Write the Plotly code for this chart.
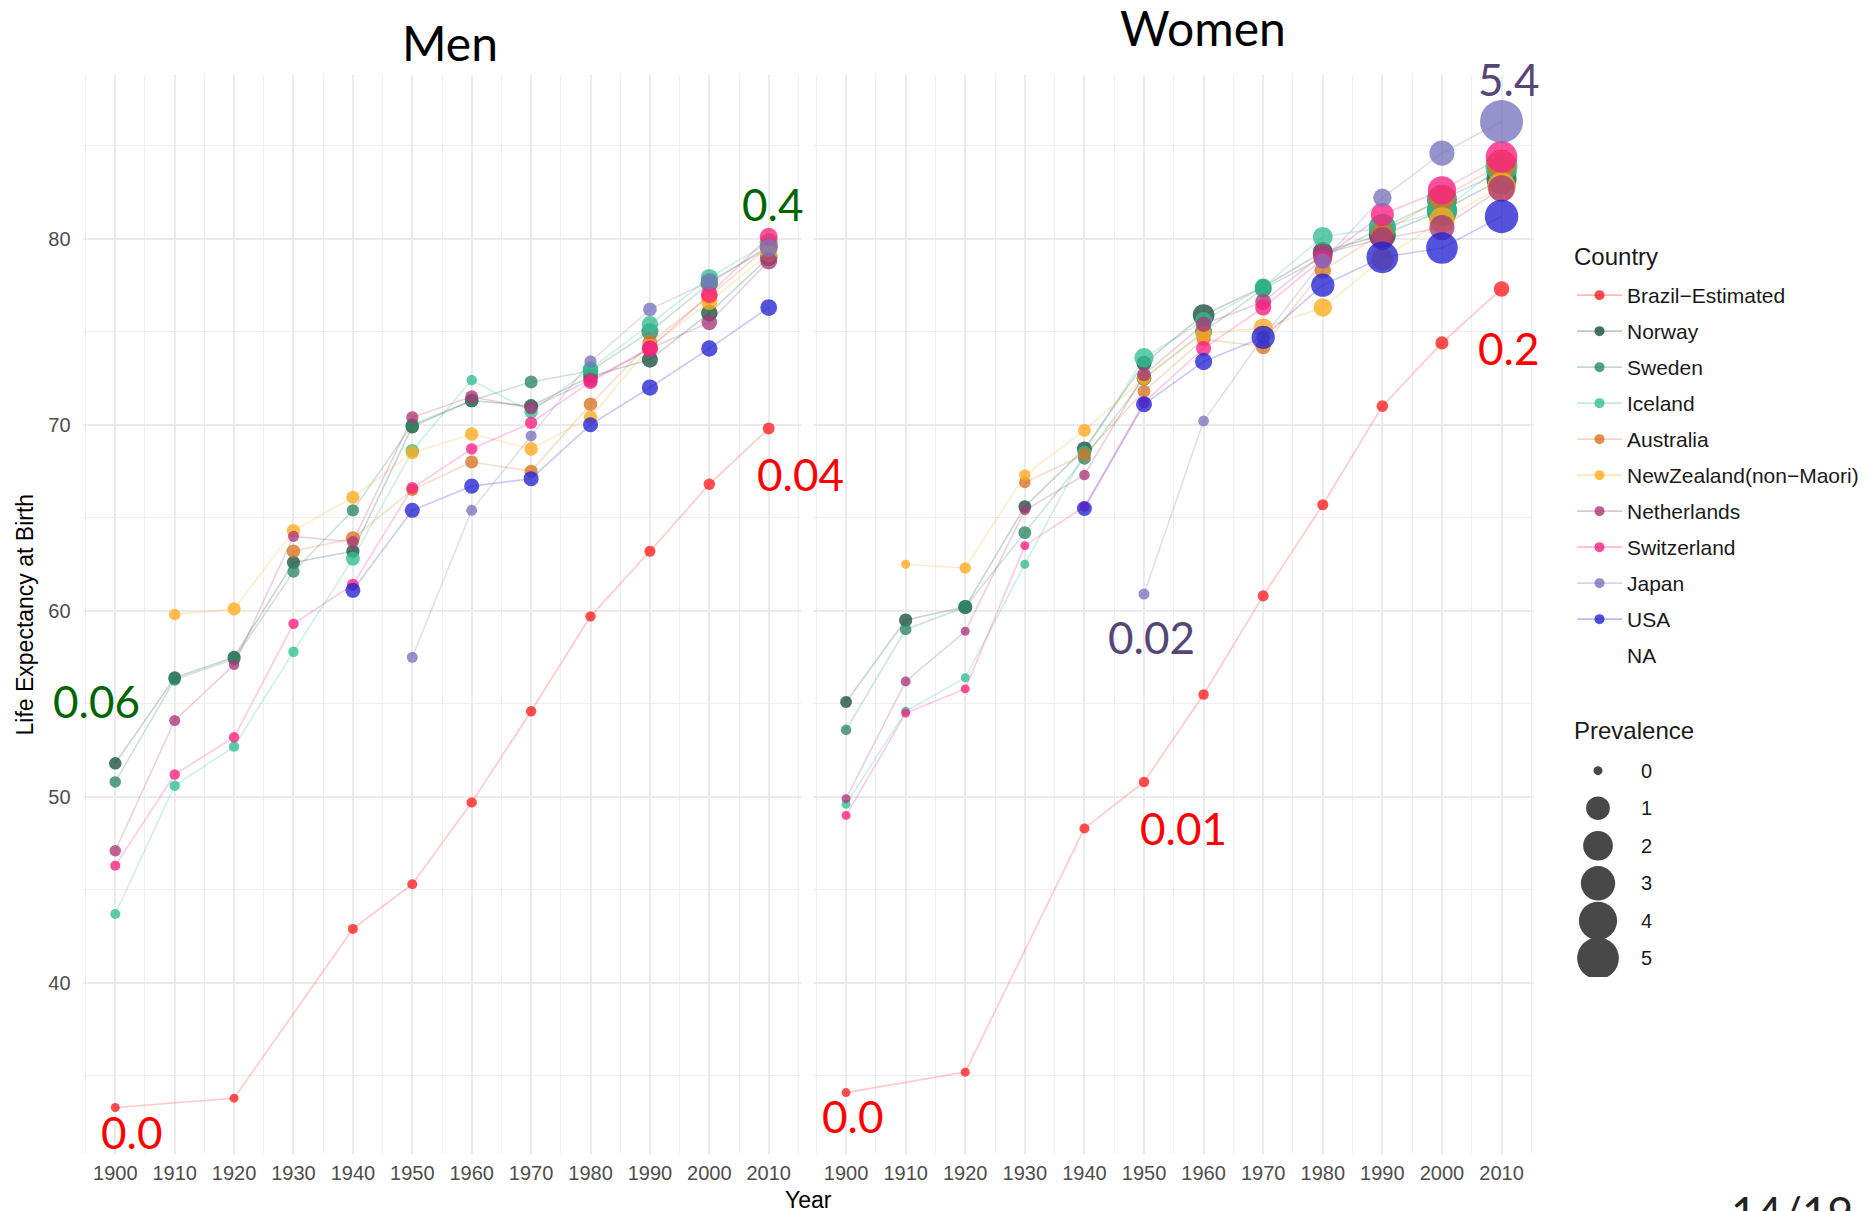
import math
import plotly.graph_objects as go

N = None
years = [1900, 1910, 1920, 1930, 1940, 1950, 1960, 1970, 1980, 1990, 2000, 2010]
x_ticks = [1900, 1910, 1920, 1930, 1940, 1950, 1960, 1970, 1980, 1990, 2000, 2010]
y_ticks = [40, 50, 60, 70, 80]
countries = ["Brazil\u2212Estimated", "Norway", "Sweden", "Iceland", "Australia",
             "NewZealand(non\u2212Maori)", "Netherlands", "Switzerland", "Japan", "USA"]
prevalence_breaks = [0, 1, 2, 3, 4, 5]

# ---- Life expectancy, men ----
men_brazil = [33.3, N, 33.8, N, 42.9, 45.3, 49.7, 54.6, 59.7, 63.2, 66.8, 69.8]
men_norway = [51.8, 56.4, 57.5, 62.6, 63.2, 69.9, 71.3, 71.0, 72.6, 73.5, 76.0, 79.0]
men_sweden = [50.8, 56.3, 57.4, 62.1, 65.4, 70.0, 71.3, 72.3, 72.9, 75.0, 77.6, 79.6]
men_iceland = [43.7, 50.6, 52.7, 57.8, 62.8, 68.6, 72.4, 70.7, 73.0, 75.4, 77.9, 79.8]
men_australia = [N, N, N, 63.2, 63.9, 66.5, 68.0, 67.5, 71.1, 74.4, 76.9, 79.6]
men_newzealand = [N, 59.8, 60.1, 64.3, 66.1, 68.5, 69.5, 68.7, 70.4, 74.2, 76.6, 79.2]
men_netherlands = [47.1, 54.1, 57.1, 64.0, 63.7, 70.4, 71.5, 70.9, 72.4, 74.1, 75.5, 78.8]
men_switzerland = [46.3, 51.2, 53.2, 59.3, 61.4, 66.6, 68.7, 70.1, 72.3, 74.1, 77.0, 80.1]
men_japan = [N, N, N, N, N, 57.5, 65.4, 69.4, 73.4, 76.2, 77.7, 79.5]
men_usa = [N, N, N, N, 61.1, 65.4, 66.7, 67.1, 70.0, 72.0, 74.1, 76.3]

# ---- Life expectancy, women ----
women_brazil = [34.1, N, 35.2, N, 48.3, 50.8, 55.5, 60.8, 65.7, 71.0, 74.4, 77.3]
women_norway = [55.1, 59.5, 60.2, 65.6, 68.7, 73.3, 75.9, 77.4, 79.3, 80.2, 81.5, 83.2]
women_sweden = [53.6, 59.0, 60.2, 64.2, 68.2, 72.5, 75.0, 77.3, 79.0, 80.6, 82.1, 83.6]
women_iceland = [49.6, 54.6, 56.4, 62.5, 68.5, 73.6, 75.6, 77.4, 80.1, 80.6, 81.5, 83.9]
women_australia = [N, N, N, 66.9, 68.4, 71.8, 74.6, 74.2, 78.3, 80.3, 82.2, 84.0]
women_newzealand = [N, 62.5, 62.3, 67.3, 69.7, 72.5, 74.9, 75.2, 76.3, 78.9, 81.0, 82.8]
women_netherlands = [49.9, 56.2, 58.9, 65.4, 67.3, 72.7, 75.4, 76.6, 79.2, 80.0, 80.6, 82.7]
women_switzerland = [49.0, 54.5, 55.8, 63.5, 65.6, 71.2, 74.1, 76.3, 78.9, 81.3, 82.6, 84.4]
women_japan = [N, N, N, N, N, 60.9, 70.2, 74.7, 78.8, 82.2, 84.6, 86.3]
women_usa = [N, N, N, N, 65.5, 71.1, 73.4, 74.7, 77.5, 79.0, 79.5, 81.2]

# ---- Prevalence, men ----
prev_men_brazil = [0.0, N, 0.0, N, 0.005, 0.005, 0.01, 0.01, 0.01, 0.02, 0.03, 0.04]
prev_men_norway = [0.06, 0.07, 0.08, 0.08, 0.08, 0.1, 0.1, 0.12, 0.15, 0.23, 0.27, 0.33]
prev_men_sweden = [0.03, 0.05, 0.06, 0.05, 0.05, 0.08, 0.08, 0.08, 0.2, 0.3, 0.35, 0.38]
prev_men_iceland = [0.005, 0.01, 0.01, 0.01, 0.12, 0.1, 0.01, 0.1, 0.2, 0.27, 0.35, 0.4]
prev_men_australia = [N, N, N, 0.1, 0.12, 0.05, 0.08, 0.08, 0.1, 0.17, 0.25, 0.32]
prev_men_newzealand = [N, 0.03, 0.08, 0.1, 0.08, 0.08, 0.1, 0.1, 0.1, 0.17, 0.25, 0.32]
prev_men_netherlands = [0.03, 0.02, 0.01, 0.02, 0.04, 0.05, 0.08, 0.06, 0.15, 0.2, 0.2, 0.3]
prev_men_switzerland = [0.005, 0.01, 0.01, 0.01, 0.04, 0.04, 0.03, 0.05, 0.12, 0.25, 0.28, 0.38]
prev_men_japan = [N, N, N, N, N, 0.02, 0.02, 0.02, 0.05, 0.1, 0.28, 0.36]
prev_men_usa = [N, N, N, N, 0.17, 0.17, 0.17, 0.17, 0.17, 0.25, 0.25, 0.28]

# ---- Prevalence, women ----
prev_women_brazil = [0.0, N, 0.0, N, 0.005, 0.01, 0.01, 0.02, 0.02, 0.03, 0.08, 0.2]
prev_women_norway = [0.04, 0.09, 0.12, 0.07, 0.17, 0.17, 0.75, 0.23, 0.56, 1.5, 2.06, 2.06]
prev_women_sweden = [0.01, 0.03, 0.12, 0.07, 0.07, 0.17, 0.3, 0.3, 0.47, 1.5, 2.06, 2.06]
prev_women_iceland = [0.0, 0.0, 0.0, 0.0, 0.1, 0.5, 0.3, 0.3, 0.56, 1.5, 2.06, 2.5]
prev_women_australia = [N, N, N, 0.03, 0.07, 0.07, 0.12, 0.17, 0.27, 0.8, 1.3, 2.0]
prev_women_newzealand = [N, 0.0, 0.03, 0.03, 0.07, 0.1, 0.2, 0.5, 0.42, 0.8, 1.3, 1.8]
prev_women_netherlands = [0.0, 0.005, 0.0, 0.005, 0.013, 0.1, 0.2, 0.23, 0.56, 0.92, 1.2, 1.45]
prev_women_switzerland = [0.0, 0.0, 0.0, 0.0, 0.005, 0.03, 0.17, 0.23, 0.38, 0.92, 1.75, 2.4]
prev_women_japan = [N, N, N, N, N, 0.02, 0.015, 0.1, 0.2, 0.42, 1.2, 5.4]
prev_women_usa = [N, N, N, N, 0.17, 0.23, 0.32, 0.95, 0.95, 2.4, 2.4, 2.8]

# highlighted prevalence labels
labels_men = ["0.4", "0.06", "0.0", "0.04"]
labels_women = ["0.0", "0.01", "0.02", "0.2", "5.4"]

# ---- tables built from the arrays ----
men_le = [men_brazil, men_norway, men_sweden, men_iceland, men_australia,
          men_newzealand, men_netherlands, men_switzerland, men_japan, men_usa]
women_le = [women_brazil, women_norway, women_sweden, women_iceland, women_australia,
            women_newzealand, women_netherlands, women_switzerland, women_japan, women_usa]
men_prev = [prev_men_brazil, prev_men_norway, prev_men_sweden, prev_men_iceland,
            prev_men_australia, prev_men_newzealand, prev_men_netherlands,
            prev_men_switzerland, prev_men_japan, prev_men_usa]
women_prev = [prev_women_brazil, prev_women_norway, prev_women_sweden, prev_women_iceland,
              prev_women_australia, prev_women_newzealand, prev_women_netherlands,
              prev_women_switzerland, prev_women_japan, prev_women_usa]

palette = [(255, 30, 30), (25, 80, 60), (45, 135, 100), (50, 190, 145), (215, 115, 35),
           (255, 170, 30), (170, 55, 120), (255, 30, 130), (120, 115, 190), (35, 35, 210)]


def rgba(c, a):
    return "rgba(%d,%d,%d,%.2f)" % (c[0], c[1], c[2], a)


def psize(p):
    # ggplot-like area scale: diameter grows with sqrt(prevalence)
    if p is None:
        return 0
    return 9 + 34 * math.sqrt(p / 5.4)


W, H = 1868, 1211
OFF = 8  # page body margin of the html page


def fx(px):
    return (px - OFF) / W


def fy(py):
    return 1 - (py - OFF) / H


PX0, PX1 = 82.6, 801.4
WX0, WX1 = 813.3, 1534.3
PY0, PY1 = 75, 1154

FONT = "Liberation Sans, Arial, sans-serif"
CAL = "Lato, Carlito, Calibri, sans-serif"

fig = go.Figure()

# lines first (under points), per panel
for xa, ya, table in [("x", "y", men_le), ("x2", "y2", women_le)]:
    for i, c in enumerate(countries):
        fig.add_trace(go.Scatter(
            x=years, y=table[i], mode="lines", connectgaps=True,
            line=dict(color=rgba(palette[i], 0.24), width=1.6),
            xaxis=xa, yaxis=ya, showlegend=False, hoverinfo="skip"))

# points
for xa, ya, table, ptable in [("x", "y", men_le, men_prev), ("x2", "y2", women_le, women_prev)]:
    for i, c in enumerate(countries):
        fig.add_trace(go.Scatter(
            x=years, y=table[i], mode="markers",
            marker=dict(color=rgba(palette[i], 0.78), size=[psize(p) for p in ptable[i]],
                        sizemode="diameter", opacity=1, line=dict(width=0)),
            xaxis=xa, yaxis=ya, showlegend=False, name=c,
            customdata=ptable[i],
            hovertemplate="%{x}: %{y}<br>Prevalence %{customdata}<extra>" + c + "</extra>"))

# legend entries for Country
for i, c in enumerate(countries):
    fig.add_trace(go.Scatter(
        x=[None], y=[None], mode="lines+markers", name=c, legendgroup=c,
        line=dict(color=rgba(palette[i], 0.3), width=1.6),
        marker=dict(color=rgba(palette[i], 0.8), size=10, opacity=1),
        xaxis="x", yaxis="y", showlegend=True))
fig.add_trace(go.Scatter(
    x=[None], y=[None], mode="markers", name="NA", legendgroup="NA",
    marker=dict(color="rgba(0,0,0,0)", size=10), xaxis="x", yaxis="y", showlegend=True))

# size legend (Prevalence) drawn as its own small axis
fig.add_trace(go.Scatter(
    x=[0] * len(prevalence_breaks), y=prevalence_breaks, mode="markers",
    marker=dict(color="rgba(72,72,72,1)", size=[psize(p) for p in prevalence_breaks],
                sizemode="diameter", opacity=1, line=dict(width=0)),
    xaxis="x3", yaxis="y3", showlegend=False, hoverinfo="skip"))

grid = dict(showgrid=True, gridcolor="#EBEBEB", gridwidth=2)
minor_grid = dict(showgrid=True, gridcolor="#EFEFEF", gridwidth=1.4)

xcommon = dict(range=[1894.5, 2015.5], tickvals=x_ticks, ticks="outside", ticklen=1,
               tickcolor="rgba(0,0,0,0)", tickfont=dict(family=FONT, size=20, color="#4D4D4D"),
               zeroline=False, showline=False, minor=dict(dtick=5, tick0=1895, **minor_grid),
               **grid)
ycommon = dict(range=[30.8, 88.8], tickvals=y_ticks, zeroline=False, showline=False,
               minor=dict(dtick=5, tick0=35, **minor_grid), **grid)

fig.update_layout(
    width=W, height=H,
    margin=dict(l=0, r=0, t=0, b=0),
    paper_bgcolor="white", plot_bgcolor="white",
    xaxis=dict(domain=[fx(PX0), fx(PX1)], anchor="y", **xcommon),
    xaxis2=dict(domain=[fx(WX0), fx(WX1)], anchor="y2", **xcommon),
    yaxis=dict(domain=[fy(PY1), fy(PY0)], anchor="x", ticks="outside", ticklen=7,
               tickcolor="rgba(0,0,0,0)",
               tickfont=dict(family=FONT, size=20, color="#4D4D4D"), **ycommon),
    yaxis2=dict(domain=[fy(PY1), fy(PY0)], anchor="x2", matches="y",
                showticklabels=False, **ycommon),
    xaxis3=dict(domain=[fx(1566), fx(1630)], range=[-1, 1], anchor="y3", visible=False),
    yaxis3=dict(domain=[fy(977.1), fy(751.9)], range=[5.5, -0.5], anchor="x3",
                side="right", tickvals=prevalence_breaks,
                ticktext=[str(b) for b in prevalence_breaks],
                ticks="outside", ticklen=6, tickcolor="rgba(0,0,0,0)",
                tickfont=dict(family=FONT, size=20, color="#1A1A1A"),
                showgrid=False, zeroline=False, showline=False),
    showlegend=True,
    legend=dict(x=fx(1572), y=fy(275), xanchor="left", yanchor="top",
                font=dict(family=FONT, size=21, color="#1A1A1A"),
                tracegroupgap=5.7, itemsizing="trace", itemwidth=45,
                bgcolor="rgba(0,0,0,0)"),
    font=dict(family=FONT),
)

ann = []


def paper_text(text, px, py, size, family, color, xanchor="center", angle=0):
    ann.append(dict(text=text, x=fx(px), y=fy(py), xref="paper", yref="paper",
                    xanchor=xanchor, yanchor="middle", textangle=angle, showarrow=False,
                    font=dict(family=family, size=size, color=color)))


paper_text("Men", 450, 42, 48, CAL, "black")
paper_text("Women", 1203, 27.5, 48, CAL, "black")
paper_text("Life Expectancy at Birth", 24, 614.5, 23, FONT, "black", angle=-90)
paper_text("Year", 808, 1200, 23, FONT, "black")
paper_text("Country", 1572, 256, 24, FONT, "#1A1A1A", xanchor="left")
paper_text("Prevalence", 1572, 730, 24, FONT, "#1A1A1A", xanchor="left")
paper_text("14/19", 1792, 1212, 44, CAL, "#222222")

GREEN, RED, PURPLE = "#006400", "#FF0000", "#554678"
men_label_pos = [(2010.7, 81.85, GREEN), (1896.8, 55.13, GREEN), (1902.7, 32.0, RED),
                 (2015.3, 67.33, RED)]
women_label_pos = [(1901.0, 32.86, RED), (1956.7, 48.34, RED), (1951.3, 58.6, PURPLE),
                   (2011.1, 74.1, RED), (2011.1, 88.6, PURPLE)]
for t, (x, y, col) in zip(labels_men, men_label_pos):
    ann.append(dict(text=t, x=x, y=y, xref="x", yref="y", showarrow=False,
                    xanchor="center", yanchor="middle",
                    font=dict(family=CAL, size=44, color=col)))
for t, (x, y, col) in zip(labels_women, women_label_pos):
    ann.append(dict(text=t, x=x, y=y, xref="x2", yref="y2", showarrow=False,
                    xanchor="center", yanchor="middle",
                    font=dict(family=CAL, size=44, color=col)))

fig.update_layout(annotations=ann)
fig.write_html("out.html")
